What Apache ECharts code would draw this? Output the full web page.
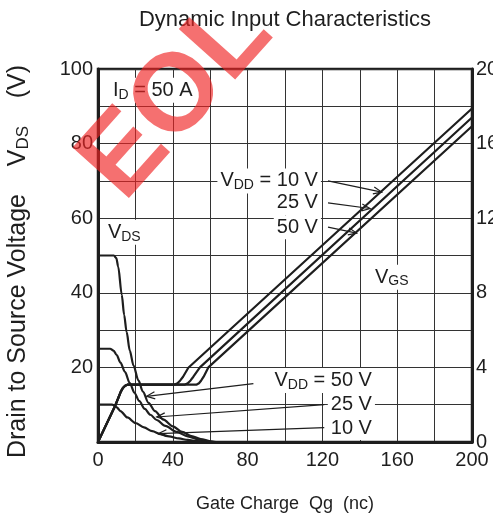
<!DOCTYPE html>
<html>
<head>
<meta charset="utf-8">
<script src="https://cdn.jsdelivr.net/npm/echarts@6/dist/echarts.min.js"></script>
<style>
  html, body { margin: 0; padding: 0; background: #fff; }
  #chart { width: 493px; height: 527px; }
</style>
</head>
<body>
<div id="chart"></div>
<script>
// Drain-source voltage vs gate charge, left axis  [Qg (nC), VDS (V)]
const vds50 = [[0, 50], [8.5, 50], [9.8, 49.3], [10.8, 47], [12.7, 39.5], [14, 34], [15.3, 29.5], [17, 24.5], [19, 20.5], [21.6, 16.5], [24, 13.5], [27, 10.5], [30.5, 8.3], [35, 6], [40, 4.2], [45, 2.7], [50, 1.6], [55, 0.8], [60, 0.2], [63, 0]];
const vds25 = [[0, 25], [6.5, 25], [8.3, 24.5], [10, 23.3], [12, 21.3], [14.4, 18.8], [17, 15.8], [19.5, 13.2], [22, 11], [25, 8.9], [28, 7.3], [31.4, 5.9], [36, 4.3], [42, 2.7], [48, 1.5], [54, 0.6], [60, 0.1], [62, 0]];
const vds10 = [[0, 10], [7.5, 10], [8.8, 9.8], [10, 9.3], [12, 8.3], [15.7, 6.6], [20, 5.1], [24.6, 3.9], [29, 2.9], [33.6, 2.1], [38, 1.5], [43.3, 0.95], [48, 0.55], [53, 0.25], [58, 0]];

// Gate-source voltage vs gate charge, right axis  [Qg (nC), VGS (V)]
const vgsRise = [[0, 0], [9, 1.9], [11, 2.4], [12.2, 2.7], [13.3, 2.9], [14.5, 3.02], [16, 3.08]];
const vgs10 = [[41, 3.08], [42.5, 3.15], [44, 3.3], [45.5, 3.5], [48.3, 3.98], [200, 17.88]];
const vgs25 = [[46.5, 3.08], [48, 3.15], [49.5, 3.3], [51, 3.5], [54.5, 4], [200, 17.4]];
const vgs50 = [[52.8, 3.08], [54, 3.15], [55.2, 3.3], [56.5, 3.5], [59, 4], [200, 16.93]];

// axis ticks
const xLabels = [0, 40, 80, 120, 160, 200];
const leftLabels = [20, 40, 60, 80, 100];
const rightLabels = [0, 4, 8, 12, 16, 20];

// annotation arrows  [fromQg, fromV, toQg, toV]  (left axis units)
const arrowLines = [
  [123, 70.0, 151.7, 67.0],
  [123, 64.1, 145.5, 62.6],
  [123, 57.6, 138.3, 56.0],
  [83.1, 15.65, 26, 12.25],
  [121, 10.0, 31.4, 6.7],
  [121, 3.85, 32.2, 2.25]
];

// text notes  [Qg, V, text, align]
const notes = [
  [6.4, 94.3, '{m|I}{s|D}{m| = 50 A}', 'left'],
  [3.7, 56.2, '{m|V}{s|DS}', 'left'],
  [146.5, 44.2, '{m|V}{s|GS}', 'left'],
  [119.2, 70.0, '{m|V}{s|DD}{m| = 10 V}', 'right'],
  [119.2, 64.1, '{m|25 V}', 'right'],
  [119.2, 57.6, '{m|50 V}', 'right'],
  [148.1, 16.5, '{m|V}{s|DD}{m| = 50 V}', 'right'],
  [148.1, 10.1, '{m|25 V}', 'right'],
  [148.1, 3.75, '{m|10 V}', 'right']
];

const ink = '#1e1e1e';
const FONT = '"Liberation Sans", Arial, Helvetica, sans-serif';
const richText = {
  m: { fontSize: 20, color: ink, fontFamily: FONT, lineHeight: 22 },
  s: { fontSize: 14, color: ink, fontFamily: FONT, padding: [9, 0, 0, 0] }
};
const richName = {
  m: { fontSize: 25, color: ink, fontFamily: FONT, lineHeight: 27 },
  s: { fontSize: 17, color: ink, fontFamily: FONT, padding: [11, 0, 0, 0] }
};

function curve(name, data, yAxisIndex, smooth) {
  return {
    name: name,
    type: 'line',
    yAxisIndex: yAxisIndex,
    data: data,
    showSymbol: false,
    smooth: smooth,
    smoothMonotone: 'x',
    silent: true,
    z: 3,
    lineStyle: { color: ink, width: 2.2 }
  };
}

const chart = echarts.init(document.getElementById('chart'));

chart.setOption({
  animation: false,
  textStyle: { fontFamily: FONT },
  grid: {
    left: 98, right: 21, top: 69, bottom: 85,
    outerBoundsMode: 'none',
    containLabel: false,
    show: true, borderColor: ink, borderWidth: 2.5, backgroundColor: 'transparent'
  },
  xAxis: {
    type: 'value', min: 0, max: 200, interval: 20,
    name: 'Gate Charge  Qg  (nc)', nameLocation: 'middle', nameGap: 53,
    nameTextStyle: { fontSize: 18, color: ink, fontFamily: FONT },
    axisLine: { lineStyle: { color: ink, width: 3 } },
    axisTick: { show: false },
    axisLabel: {
      fontSize: 20, color: ink, margin: 8,
      formatter: v => (xLabels.includes(v) ? String(v) : '')
    },
    splitLine: { lineStyle: { color: '#333', width: 1 } }
  },
  yAxis: [
    {
      type: 'value', min: 0, max: 100, interval: 10, position: 'left',
      name: '{m|Drain to Source Voltage    V}{s|DS}{m|    (V)}',
      nameLocation: 'middle', nameGap: 66,
      nameTextStyle: { rich: richName, padding: [0, 12, 0, 0] },
      axisLine: { show: true, lineStyle: { color: ink, width: 3 } },
      axisTick: { show: false },
      axisLabel: {
        fontSize: 20, color: ink, margin: 5,
        formatter: v => (leftLabels.includes(v) ? String(v) : '')
      },
      splitLine: { lineStyle: { color: '#333', width: 1 } }
    },
    {
      type: 'value', min: 0, max: 20, interval: 2, position: 'right',
      axisLine: { show: true, lineStyle: { color: ink, width: 3 } },
      axisTick: { show: false },
      axisLabel: {
        fontSize: 20, color: ink, margin: 4,
        formatter: v => (rightLabels.includes(v) ? String(v) : '')
      },
      splitLine: { show: false }
    }
  ],
  graphic: [
    {
      type: 'text', x: 285, y: 20, z: 10,
      style: {
        text: 'Dynamic Input Characteristics', font: '22px ' + FONT, fill: ink,
        align: 'center', verticalAlign: 'middle'
      }
    },
    {
      type: 'text', x: 177, y: 99, rotation: 0.84, z: 100, silent: true,
      style: {
        text: 'EOL', font: 'bold 110px ' + FONT, fill: 'rgba(240, 35, 35, 0.65)',
        align: 'center', verticalAlign: 'middle'
      }
    }
  ],
  series: [
    curve('VDS 50 V', vds50, 0, 0.3),
    curve('VDS 25 V', vds25, 0, 0.3),
    curve('VDS 10 V', vds10, 0, 0.3),
    curve('VGS 10 V', vgsRise.concat(vgs10), 1, false),
    curve('VGS 25 V', vgsRise.concat(vgs25), 1, false),
    curve('VGS 50 V', vgsRise.concat(vgs50), 1, false),
    {
      name: 'arrows',
      type: 'custom',
      yAxisIndex: 0,
      silent: true,
      z: 4,
      data: arrowLines,
      encode: { x: [0, 2], y: [1, 3] },
      renderItem(params, api) {
        const a = api.coord([api.value(0), api.value(1)]);
        const b = api.coord([api.value(2), api.value(3)]);
        const ang = Math.atan2(b[1] - a[1], b[0] - a[0]);
        const h = 9, w = 0.4;
        const p1 = [b[0] - h * Math.cos(ang - w), b[1] - h * Math.sin(ang - w)];
        const p2 = [b[0] - h * Math.cos(ang + w), b[1] - h * Math.sin(ang + w)];
        return {
          type: 'group',
          children: [
            { type: 'line', shape: { x1: a[0], y1: a[1], x2: b[0], y2: b[1] }, style: { stroke: ink, lineWidth: 1.2 } },
            { type: 'polyline', shape: { points: [p1, b, p2] }, style: { stroke: ink, lineWidth: 1.2, fill: null } }
          ]
        };
      }
    },
    {
      name: 'notes',
      type: 'scatter',
      yAxisIndex: 0,
      symbolSize: 0,
      silent: true,
      z: 5,
      itemStyle: { opacity: 1 },
      data: notes.map(n => ({
        value: [n[0], n[1]],
        label: {
          show: true,
          position: 'inside',
          align: n[3],
          verticalAlign: 'middle',
          formatter: n[2],
          rich: richText,
          color: ink,
          opacity: 1,
          backgroundColor: '#fff',
          padding: [1, 3, 1, 3]
        }
      }))
    }
  ]
});
</script>
</body>
</html>
